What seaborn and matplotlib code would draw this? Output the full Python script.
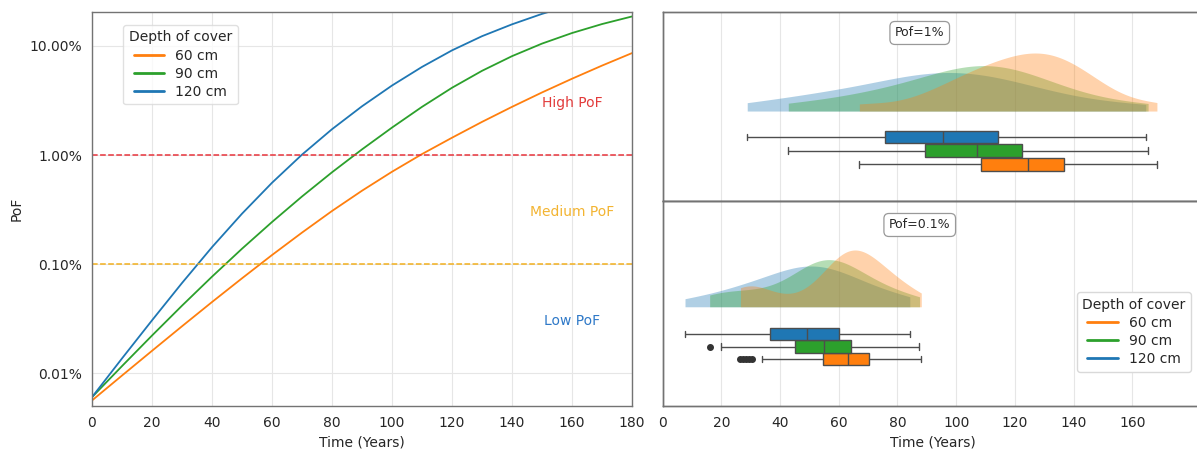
import numpy as np
import pandas as pd
import matplotlib
matplotlib.use("Agg")
import matplotlib.pyplot as plt
import seaborn as sns
from matplotlib.ticker import PercentFormatter, NullFormatter
from matplotlib.lines import Line2D

# ---------------- data ----------------
years = [0, 10, 20, 30, 40, 50, 60, 70, 80, 90, 100, 110, 120, 130, 140, 150, 160, 170, 180]
pof_60cm = [5.62e-5, 9.51e-5, 1.603e-4, 2.692e-4, 4.49e-4, 7.41e-4, 1.211e-3, 1.945e-3, 3.069e-3,
            4.71e-3, 7.03e-3, 1.021e-2, 1.442e-2, 2.014e-2, 2.767e-2, 3.75e-2, 5.01e-2, 6.61e-2,
            8.61e-2]
pof_90cm = [6.03e-5, 1.161e-4, 2.213e-4, 4.159e-4, 7.67e-4, 1.384e-3, 2.432e-3, 4.169e-3, 6.95e-3,
            1.127e-2, 1.786e-2, 2.767e-2, 4.14e-2, 5.92e-2, 8.07e-2, 0.1052, 0.1315, 0.1589, 0.1866]
pof_120cm = [6.03e-5, 1.365e-4, 3.05e-4, 6.71e-4, 1.43e-3, 2.90e-3, 5.57e-3, 1.009e-2, 1.726e-2,
             2.80e-2, 4.34e-2, 6.43e-2, 9.12e-2, 0.123, 0.158, 0.197, 0.237, np.nan, np.nan]

depth_labels = ["60 cm", "90 cm", "120 cm"]
depth_colors = ["#ff7f0e", "#2ca02c", "#1f77b4"]

# time (years) to reach PoF = 1 %
t1_60cm = [67, 88, 96, 102, 105.5, 108.3, 112, 115.5, 118.5, 121.5, 124.4, 126.5, 128.5, 130.5,
           133, 136.6, 139, 142, 145.5, 150, 168.4]
t1_90cm = [42.8, 60, 69, 77, 83.5, 89.3, 93, 97, 101, 104, 107, 110, 113, 116, 119, 122.4,
           126, 131, 138, 147, 165.4]
t1_120cm = [28.8, 45, 54, 61, 68.5, 75.8, 80, 84, 88, 92, 95.4, 99, 103, 107, 111, 114.4,
            119, 125, 133, 144, 164.6]
# time (years) to reach PoF = 0.1 %
t01_60cm = [26.5, 27.5, 28.5, 29.5, 30.5, 34, 42, 49, 54.7, 56.5, 58, 59, 60, 61, 62, 62.6,
            63.2, 64, 65, 66, 67, 68, 69, 69.8, 70.4, 72, 73.5, 75, 77, 79, 81.5, 84, 88.1]
t01_90cm = [16.0, 20, 27, 33, 39, 45, 47.5, 50, 52, 53.5, 55, 56.5, 58, 60, 62, 64.1,
            66.5, 70, 74, 79, 87.5]
t01_120cm = [7.6, 18, 24, 28.5, 32.5, 36.7, 39, 42, 44.5, 47, 49.1, 51, 53, 55.5, 58, 60.1,
             63, 66.5, 70.5, 76, 84.2]

xticks_right = [0, 20, 40, 60, 80, 100, 120, 140, 160]

# ---------------- frames ----------------
pal = dict(zip(depth_labels, depth_colors))
df_lines = pd.concat([
    pd.DataFrame({"Years": years, "PoF": vals, "Depth": lab})
    for lab, vals in zip(depth_labels, [pof_60cm, pof_90cm, pof_120cm])
]).dropna()

def long_df(series):
    return pd.concat([pd.DataFrame({"Years": v, "Depth": lab})
                      for lab, v in zip(depth_labels, series)], ignore_index=True)

df_1 = long_df([t1_60cm, t1_90cm, t1_120cm])
df_01 = long_df([t01_60cm, t01_90cm, t01_120cm])

# ---------------- style ----------------
sns.set_style("white")
plt.rcParams["font.family"] = ["DejaVu Sans"]
plt.rcParams.update({
    "font.size": 10,
    "axes.edgecolor": "0.45",
    "axes.linewidth": 1.0,
    "xtick.color": "0.35",
    "ytick.color": "0.35",
    "xtick.labelcolor": "0.15",
    "ytick.labelcolor": "0.15",
    "text.color": "0.15",
    "axes.labelcolor": "0.15",
})

W, H = 1197, 449
fig = plt.figure(figsize=(W / 100, H / 100), dpi=100)

def rect(x0, y0, x1, y1):
    return [x0 / W, 1 - y1 / H, (x1 - x0) / W, (y1 - y0) / H]

# ---------------- left panel ----------------
ax = fig.add_axes(rect(92, 12, 632, 406))
ax.set_yscale("log")
sns.lineplot(data=df_lines, x="Years", y="PoF", hue="Depth", hue_order=depth_labels,
             palette=pal, linewidth=1.3, legend=False, ax=ax)
ax.axhline(1e-2, color="#e8343c", ls="--", lw=1.1)
ax.axhline(1e-3, color="#f2b01e", ls="--", lw=1.1)
ax.text(160, 3e-2, "High PoF", color="#e23b3b", ha="center", va="center", fontsize=10)
ax.text(160, 3e-3, "Medium PoF", color="#f3b431", ha="center", va="center", fontsize=10)
ax.text(160, 3e-4, "Low PoF", color="#2f79c8", ha="center", va="center", fontsize=10)
ax.set_xlim(0, 180)
ax.set_ylim(5e-5, 0.205)
ax.set_xticks(range(0, 181, 20))
ax.yaxis.set_major_formatter(PercentFormatter(xmax=1, decimals=2))
ax.yaxis.set_minor_formatter(NullFormatter())
ax.grid(True, which="major", color="0.9", lw=0.8)
ax.tick_params(which="major", direction="out", length=3.5)
ax.tick_params(which="minor", direction="out", length=2)
ax.set_xlabel("Time (Years)")
ax.set_ylabel("PoF")
handles = [Line2D([], [], color=c, lw=2) for c in depth_colors]
ax.legend(handles, depth_labels, title="Depth of cover", loc="upper left",
          bbox_to_anchor=(0.045, 0.985), fontsize=10, title_fontsize=10,
          frameon=True, edgecolor="0.85", handlelength=2.2, borderpad=0.4,
          labelspacing=0.3)

# ---------------- right panels ----------------
order_box = ["120 cm", "90 cm", "60 cm"]

def right_panel(axm, df, ylim, width, base_f, peak_f, label, label_y):
    sns.boxplot(data=df, x="Years", y="Depth", hue="Depth", order=order_box,
                hue_order=depth_labels, palette=pal, saturation=1, width=width,
                linewidth=1, linecolor="0.3", fliersize=4, legend=False, ax=axm,
                flierprops=dict(marker="o", markerfacecolor="0.2", markeredgecolor="0.2"))
    axm.set_ylim(*ylim)
    axm.set_yticks([])
    axm.set_ylabel("")
    axk = axm.twinx()
    sns.kdeplot(data=df, x="Years", hue="Depth", hue_order=depth_labels, palette=pal,
                fill=True, cut=0, common_norm=False, alpha=0.35, linewidth=0,
                bw_adjust=0.85, legend=False, ax=axk)
    ymax = max(p.vertices[:, 1].max() for c in axk.collections for p in c.get_paths())
    rng = ymax / (peak_f - base_f)
    lo = -base_f * rng
    axk.set_ylim(lo, lo + rng)
    axk.set_yticks([])
    axk.set_ylabel("")
    axm.set_xlim(0, 184)
    axm.set_xticks(xticks_right)
    axm.xaxis.grid(True, color="0.9", lw=0.8)
    axm.set_axisbelow(True)
    axk.text(0.476, label_y, label, transform=axm.transAxes, ha="center", va="center",
             fontsize=9, bbox=dict(boxstyle="round,pad=0.4", fc="white", ec="0.6", lw=0.9))
    return axk

axT = fig.add_axes(rect(662.7, 12, 1202.7, 201))
axB = fig.add_axes(rect(662.7, 201, 1202.7, 406))

axTk = right_panel(axT, df_1, (4.69, -9.16), 0.95, 0.476, 0.783, "Pof=1%", 0.889)
axBk = right_panel(axB, df_01, (5.76, -10.64), 1.0, 0.484, 0.761, "Pof=0.1%", 0.883)

axT.tick_params(axis="x", labelbottom=False, length=0)
axT.set_xlabel("")
axB.tick_params(axis="x", direction="out", length=3.5)
axB.set_xlabel("Time (Years)")

axBk.legend(handles, depth_labels, title="Depth of cover", loc="upper left",
            bbox_to_anchor=(0.767, 0.556), borderaxespad=0, fontsize=10, title_fontsize=10,
            frameon=True, edgecolor="0.85", handlelength=2.2, borderpad=0.4,
            labelspacing=0.3, framealpha=1)

fig.savefig("out.png", dpi=100)
